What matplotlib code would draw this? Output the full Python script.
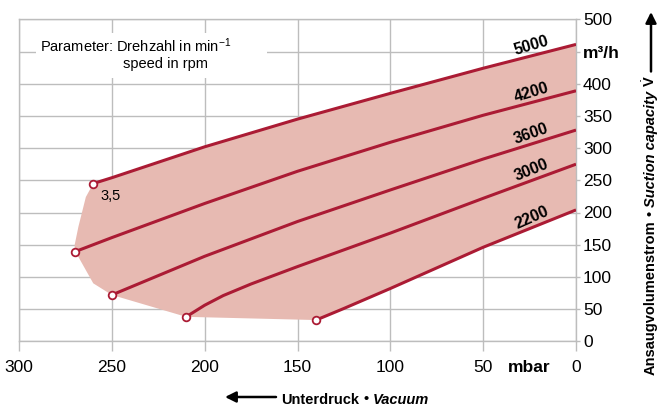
"""Suction capacity vs. vacuum for several pump speeds."""

import matplotlib

matplotlib.use("Agg")

import matplotlib.pyplot as plt
import numpy as np
from matplotlib.patches import Rectangle

plt.rcParams["font.family"] = ["Liberation Sans", "DejaVu Sans"]
plt.rcParams["mathtext.fontset"] = "custom"
plt.rcParams["mathtext.rm"] = "Liberation Sans"
plt.rcParams["mathtext.it"] = "Liberation Sans:italic"
plt.rcParams["mathtext.bf"] = "Liberation Sans:bold"

# ---- data (vacuum in mbar, flow in m3/h) ----
speeds = ["5000", "4200", "3600", "3000", "2200"]

p_5000 = [260, 250, 200, 150, 100, 50, 0]
q_5000 = [245, 254, 302, 345, 385, 424, 461]

p_4200 = [270, 250, 200, 150, 100, 50, 0]
q_4200 = [139, 161, 214, 264, 309, 351, 389]

p_3600 = [250, 200, 150, 100, 50, 0]
q_3600 = [72, 132, 186, 235, 283, 328]

p_3000 = [210, 200, 190, 175, 150, 100, 50, 0]
q_3000 = [38, 56, 71, 89, 116, 168, 222, 275]

p_2200 = [140, 125, 100, 50, 0]
q_2200 = [33, 51, 82, 146, 204]

# left / lower border of the shaded operating range
env_p = [260, 264, 268, 270, 270, 268, 260, 250, 210]
env_q = [245, 224, 178, 150, 139, 131, 90, 72, 38]

x_ticks = [300, 250, 200, 150, 100, 50, 0]
y_ticks = [0, 50, 100, 150, 200, 250, 300, 350, 400, 450, 500]
y_ticklabels = ["0", "50", "100", "150", "200", "250", "300", "350", "400",
                "m³/h", "500"]

curves = [
    (p_5000, q_5000),
    (p_4200, q_4200),
    (p_3600, q_3600),
    (p_3000, q_3000),
    (p_2200, q_2200),
]

LINE = "#ab1b34"
FILL = "#e7bab2"
GRID = "#bdbdbd"

W, H = 660, 405
fig = plt.figure(figsize=(W / 100, H / 100), dpi=100)
ax = fig.add_axes([19 / W, 1 - 341.3 / H, 557 / W, 322 / H])

# shaded region
poly_x = np.concatenate([env_p, p_2200, p_5000[::-1]])
poly_y = np.concatenate([env_q, q_2200, q_5000[::-1]])
ax.fill(poly_x, poly_y, color=FILL, lw=0, zorder=1)

for (p, q), name in zip(curves, speeds):
    ax.plot(p, q, color=LINE, lw=2.2, solid_capstyle="butt",
            solid_joinstyle="round", zorder=3)
    ax.plot(p[0], q[0], "o", ms=5.5, mfc="white", mec=LINE, mew=1.3, zorder=4)

ax.set_xlim(300, 0)
ax.set_ylim(0, 500)

# curve labels near the right end
fig.canvas.draw()
for (p, q), name in zip(curves, speeds):
    xa = np.array(p[::-1], dtype=float)
    ya = np.array(q[::-1], dtype=float)
    x_lab = 24
    y_lab = np.interp(x_lab, xa, ya)
    (x0, y0), (x1, y1) = ax.transData.transform([(50, np.interp(50, xa, ya)),
                                                  (0, ya[0])])
    ang = np.degrees(np.arctan2(y1 - y0, x1 - x0))
    ax.annotate(name, (x_lab, y_lab), xytext=(0, 10), textcoords="offset pixels",
                ha="center", va="center", rotation=ang + 2,
                fontsize=11.5, fontweight="bold", zorder=5)

ax.annotate("3,5", (p_5000[0], q_5000[0]), xytext=(17, -12),
            textcoords="offset pixels", ha="center", va="center", fontsize=10.5)

# parameter note with white background
ax.add_patch(Rectangle((0.0305, 0.818), 0.4145, 0.139, transform=ax.transAxes,
                       facecolor="white", edgecolor="none", zorder=1.5))
ax.text(0.0377, 0.918, "Parameter: Drehzahl in min$^{\\mathregular{-1}}$",
        transform=ax.transAxes, ha="left", va="center", fontsize=10.5, zorder=2)
ax.text(0.1867, 0.861, "speed in rpm", transform=ax.transAxes,
        ha="left", va="center", fontsize=10.5, zorder=2)

# grid, ticks and frame
ax.set_axisbelow(True)
ax.grid(True, color=GRID, lw=1.0)
for s in ax.spines.values():
    s.set_color(GRID)
    s.set_linewidth(1.0)

ax.set_xticks(x_ticks)
ax.set_xticklabels([str(v) for v in x_ticks])
ax.set_xticks([25], minor=True)
ax.set_xticklabels(["mbar"], minor=True, fontweight="bold")
ax.tick_params(axis="x", which="major", length=7.5, width=1.0, color=GRID,
               pad=6, labelsize=12.5)
ax.tick_params(axis="x", which="minor", length=0, pad=13.5, labelsize=12.5)

ax.yaxis.tick_right()
ax.set_yticks(y_ticks)
ax.set_yticklabels(y_ticklabels)
for lab in ax.get_yticklabels():
    if lab.get_text() == "m³/h":
        lab.set_fontweight("bold")
ax.tick_params(axis="y", which="major", length=3, width=1.0, color=GRID,
               pad=2, labelsize=12.5)

# axis titles built from pieces with different styles
renderer = fig.canvas.get_renderer()


def run_text(x, y, parts, rotation=0):
    """Draw text pieces one after another, starting at pixel (x, y)."""
    for s, style, gap in parts:
        t = fig.text(x / W, y / H, s, ha="left", va="baseline",
                     rotation=rotation, rotation_mode="anchor",
                     fontsize=10.5, fontweight="bold", fontstyle=style)
        bb = t.get_window_extent(renderer)
        if rotation:
            y += bb.height + gap
        else:
            x += bb.width + gap
    return x, y


run_text(281.5, 1.5, [("Unterdruck", "normal", 4), ("•", "normal", 4),
                      ("Vacuum", "italic", 0)])
_, top = run_text(655, 30, [("Ansaugvolumenstrom", "normal", 4),
                            ("•", "normal", 4),
                            ("Suction capacity", "italic", 4),
                            (r"$\dot{\mathbf{V}}$", "normal", 0)], rotation=90)

arrow = dict(arrowstyle="-|>", color="black", lw=1.8, mutation_scale=16,
             shrinkA=0, shrinkB=0)
fig.add_artist(matplotlib.patches.FancyArrowPatch(
    (276 / W, 8 / H), (225 / W, 8 / H), transform=fig.transFigure, **arrow))
fig.add_artist(matplotlib.patches.FancyArrowPatch(
    (651 / W, (top + 4) / H), (651 / W, 393 / H), transform=fig.transFigure,
    **arrow))

fig.savefig("out.png", dpi=100)
